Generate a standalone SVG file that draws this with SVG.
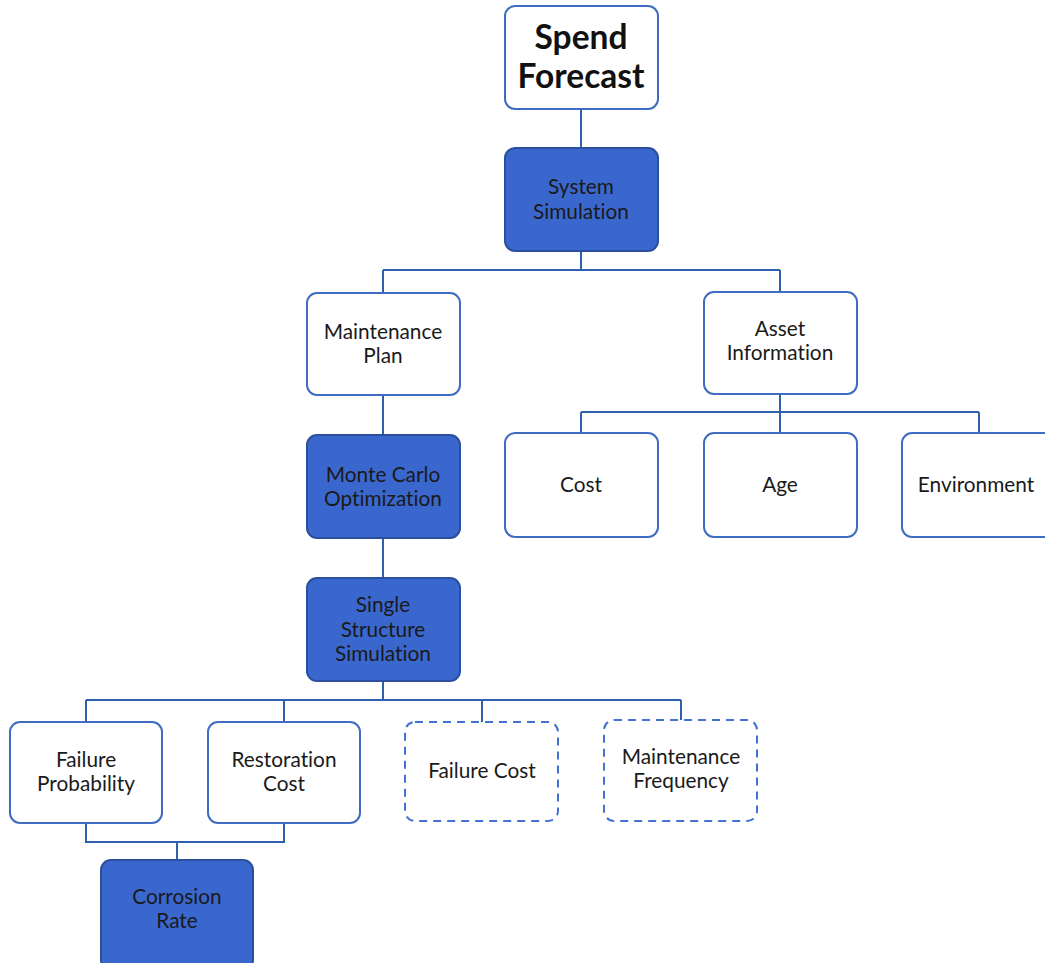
<svg xmlns="http://www.w3.org/2000/svg" width="1045" height="963" viewBox="0 0 1045 963">
<style>
.w{fill:#ffffff;stroke:#3F6CC0;stroke-width:2}
.d{fill:#3A67CD;stroke:#2B4F9C;stroke-width:2}
.dash{fill:#ffffff;stroke:#4472D4;stroke-width:2;stroke-dasharray:8 6}
.t{font-family:Lato,"Open Sans","Liberation Sans",sans-serif;font-size:20.8px;fill:#1a1a1a;text-anchor:middle;font-variant-ligatures:none;font-feature-settings:"liga" 0,"dlig" 0}
.b{font-family:Lato,"Open Sans","Liberation Sans",sans-serif;font-size:33.5px;font-weight:bold;fill:#111;text-anchor:middle;font-variant-ligatures:none}
.c{fill:none;stroke:#2F5FAF;stroke-width:2}
</style>
<g id="connectors">
<path class="c" d="M581 109V148"/>
<path class="c" d="M581 251V270M383 270H780M383 270V293M780 270V292"/>
<path class="c" d="M383 395V435"/>
<path class="c" d="M383 538V578"/>
<path class="c" d="M780 394V412M581 412H979M581 412V433M780 412V433M979 412V433"/>
<path class="c" d="M383 681V700M86 700H681M86 700V722M284 700V722M482 700V722M681 700V720"/>
<path class="c" d="M86 823V842H284V823M177 842V860"/>
</g>
<g id="spend-forecast"><rect class="w" x="505" y="6" width="153" height="103" rx="10"/><text class="b" x="581" y="49">Spend</text><text class="b" x="581" y="88">Forecast</text></g>
<g id="system-simulation"><rect class="d" x="505" y="148" width="153" height="103" rx="10"/><text class="t" x="581" y="194">System</text><text class="t" x="581" y="219">Simulation</text></g>
<g id="maintenance-plan"><rect class="w" x="307" y="293" width="153" height="102" rx="10"/><text class="t" x="383" y="339">Maintenance</text><text class="t" x="383" y="363">Plan</text></g>
<g id="asset-information"><rect class="w" x="704" y="292" width="153" height="102" rx="10"/><text class="t" x="780" y="336">Asset</text><text class="t" x="780" y="360">Information</text></g>
<g id="cost"><rect class="w" x="505" y="433" width="153" height="104" rx="10"/><text class="t" x="581" y="492">Cost</text></g>
<g id="age"><rect class="w" x="704" y="433" width="153" height="104" rx="10"/><text class="t" x="780" y="492">Age</text></g>
<g id="environment"><rect class="w" x="902" y="433" width="160" height="104" rx="10"/><text class="t" x="976" y="492">Environment</text></g>
<g id="monte-carlo"><rect class="d" x="307" y="435" width="153" height="103" rx="10"/><text class="t" x="383" y="482">Monte Carlo</text><text class="t" x="383" y="506">Optimization</text></g>
<g id="single-structure"><rect class="d" x="307" y="578" width="153" height="103" rx="10"/><text class="t" x="383" y="612">Single</text><text class="t" x="383" y="637">Structure</text><text class="t" x="383" y="661">Simulation</text></g>
<g id="failure-probability"><rect class="w" x="10" y="722" width="152" height="101" rx="10"/><text class="t" x="86" y="767">Failure</text><text class="t" x="86" y="791">Probability</text></g>
<g id="restoration-cost"><rect class="w" x="208" y="722" width="152" height="101" rx="10"/><text class="t" x="284" y="767">Restoration</text><text class="t" x="284" y="791">Cost</text></g>
<g id="failure-cost"><rect class="dash" x="405" y="722" width="153" height="99" rx="10"/><text class="t" x="482" y="778">Failure Cost</text></g>
<g id="maintenance-frequency"><rect class="dash" x="604" y="720" width="153" height="101" rx="10"/><text class="t" x="681" y="764">Maintenance</text><text class="t" x="681" y="788">Frequency</text></g>
<g id="corrosion-rate"><rect class="d" x="101" y="860" width="152" height="110" rx="10"/><text class="t" x="177" y="904">Corrosion</text><text class="t" x="177" y="928">Rate</text></g>
</svg>
